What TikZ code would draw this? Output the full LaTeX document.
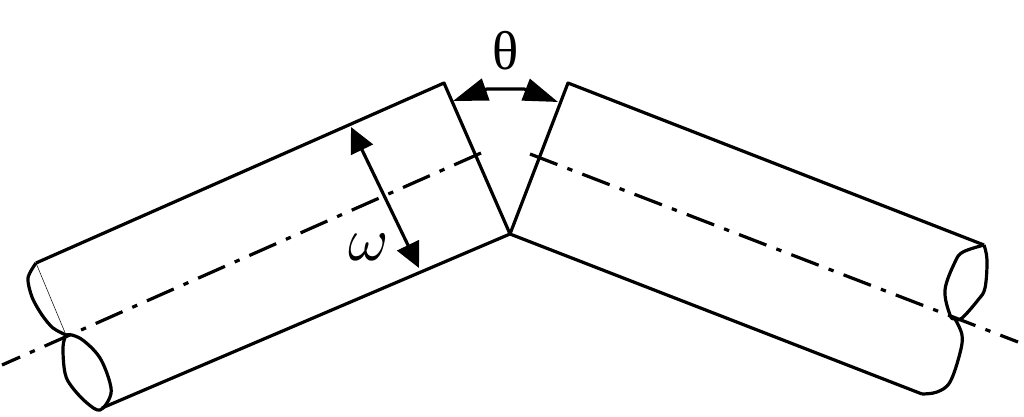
\documentclass[tikz,border=0pt]{standalone}
\usepackage{amsmath}
\usepackage{fontspec}
\usetikzlibrary{arrows.meta}
\newfontfamily\thetafont{Liberation Serif}
\tikzset{
  outline/.style={line width=2.4pt,line join=round},
  axisline/.style={line width=2.4pt,dash pattern=on 22pt off 8pt on 4pt off 8pt},
  widtharrow/.style={line width=2.4pt,{Triangle[length=19pt,width=18pt]}-{Triangle[length=19pt,width=18pt]}},
  gaparrow/.style={line width=2.4pt,line join=round,{Triangle[length=26pt,width=17pt]}-{Triangle[length=26pt,width=17pt]}},
  biglabel/.style={inner sep=0pt}
}
\begin{document}
\begin{tikzpicture}[x=0.75pt, y=-0.75pt]
      \useasboundingbox (0,0) rectangle (1024,417);
      % corners of the two tubes
      \coordinate (lefttop) at (36,263);
      \coordinate (leftend) at (444,83);
      \coordinate (joint) at (510,234);
      \coordinate (leftlow) at (102,408);
      \coordinate (righttop) at (568,83);
      \coordinate (rightend) at (984,245);
      \coordinate (rightlow) at (922,394);
      \coordinate (leftpinch) at (66,335);
      \coordinate (rightpinch) at (955,319);
      \draw[outline] (lefttop) -- (leftend) -- (joint) -- (leftlow);
      \draw[outline] (rightend) -- (righttop) -- (joint) -- (rightlow);
      % hand drawn tube ends
      \draw[outline,smooth] plot coordinates {(36,263) (28,278) (32,297) (42,315) (53,328) (66,335)};
      \draw[outline,smooth,tension=0.6] plot coordinates {(66,335) (63,347) (65,373) (72,387) (87,403) (100,410) (110,397) (110,383) (100,358) (84,341) (72,335) (66,335)};
      \draw[line width=0.4pt] (lefttop) -- (leftpinch);
      \draw[outline,smooth,tension=0.6] plot coordinates {(984,245) (963,252) (955,262) (945,290) (950,315) (955,319) (962,318) (978,300) (985,288) (987,260) (984,245)};
      \draw[outline,smooth,tension=0.6] plot coordinates {(955,319) (962,335) (960,353) (950,382) (937,392) (922,394)};
      % centre lines
      \coordinate (axisLa) at (2,365);
      \coordinate (axisLb) at (481,153);
      \coordinate (axisRa) at (530,154);
      \coordinate (axisRb) at (1018,342);
      \draw[axisline] (axisLb) -- (axisLa);
      \draw[axisline] (axisRa) -- (axisRb);
      % dimensions
      \coordinate (omegaA) at (351,127);
      \coordinate (omegaB) at (419,268);
      \draw[widtharrow] (omegaA) -- (omegaB);
      \coordinate (thetaA) at (453,101);
      \coordinate (thetaB) at (558,102);
      \coordinate (thetaC) at (487,89);
      \coordinate (thetaD) at (524,89);
      \draw[gaparrow] (thetaA) -- (thetaC) -- (thetaD) -- (thetaB);
      \node[biglabel,scale=4.6] (omegalabel) at (369,247) {$\omega$};
      \node[biglabel,scale=4.1] (thetalabel) at (506,51) {\thetafont θ};
    \end{tikzpicture}
\end{document}
